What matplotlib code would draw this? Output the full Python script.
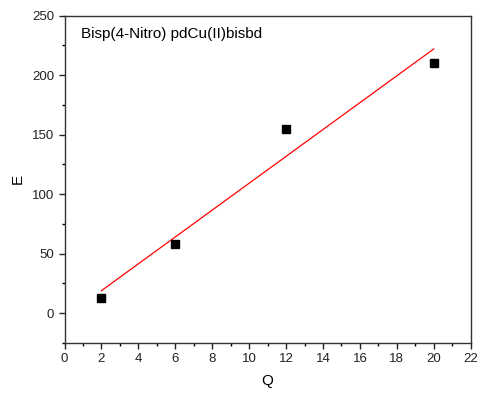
import numpy as np
import matplotlib
matplotlib.use("Agg")
import matplotlib.pyplot as plt
from matplotlib.ticker import MultipleLocator

plt.rcParams['font.family'] = ['Liberation Sans', 'DejaVu Sans']

q = [2, 6, 12, 20]
e = [13.1, 58.4, 154.7, 210.4]
label_text = "Bisp(4-Nitro) pdCu(II)bisbd"

fig = plt.figure(figsize=(4.8, 3.94), dpi=100)
ax = fig.add_axes([64.5/480, 1 - 343/394, (470.7-64.5)/480, (343-15.5)/394])

ax.plot(q, e, 's', color='black', markersize=5.8, zorder=3)
slope, intercept = np.polyfit(q, e, 1)
xf = np.array([min(q), max(q)])
ax.plot(xf, slope*xf + intercept, color='red', linewidth=0.9, zorder=2)

ax.set_xlim(0, 22)
ax.set_ylim(-25, 250)
ax.xaxis.set_major_locator(MultipleLocator(2))
ax.xaxis.set_minor_locator(MultipleLocator(1))
ax.yaxis.set_major_locator(MultipleLocator(50))
ax.yaxis.set_minor_locator(MultipleLocator(25))
ax.tick_params(which='major', direction='out', length=4, width=1, labelsize=9.5, colors='#222222')
ax.tick_params(which='minor', direction='out', length=2, width=1)
for s in ax.spines.values():
    s.set_linewidth(1.0)
    s.set_color('#333333')

ax.set_xlabel('Q', fontsize=11, labelpad=6)
ax.set_ylabel('E', fontsize=11, labelpad=5)
ax.text(0.04, 0.945, label_text, transform=ax.transAxes, fontsize=11, va='center', ha='left')

fig.savefig('out.png', dpi=100)
